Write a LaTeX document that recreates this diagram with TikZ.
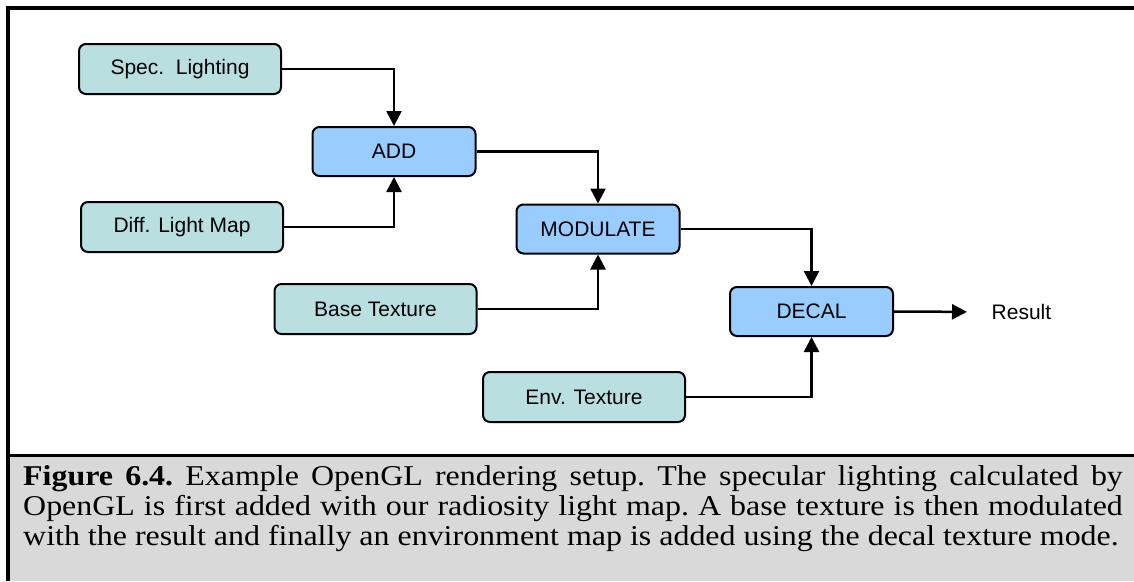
\documentclass[tikz,border=0pt]{standalone}
\usepackage{fontspec}
\usepackage{graphicx}
\setmainfont{Liberation Serif}
\newfontfamily\boxfont{Liberation Sans}
\usetikzlibrary{arrows.meta}
\definecolor{inbox}{HTML}{BADFE1}
\definecolor{opbox}{HTML}{99CCFF}
\definecolor{capgray}{HTML}{D9D9D9}
\tikzset{
  srcbox/.style={draw=black, line width=2pt, rounded corners=7pt, fill=inbox,
    minimum width=202pt, minimum height=50pt, inner sep=0pt,
    font=\boxfont\fontsize{21}{25}\selectfont},
  opnode/.style={draw=black, line width=2pt, rounded corners=7pt, fill=opbox,
    minimum width=163pt, minimum height=49pt, inner sep=0pt,
    font=\boxfont\fontsize{21}{25}\selectfont},
  plain/.style={inner sep=0pt, font=\boxfont\fontsize{21}{25}\selectfont},
  link/.style={line width=2.5pt, -{Triangle[length=15pt,width=15pt]}},
}
\begin{document}
\begin{tikzpicture}[x=1pt, y=-1pt]
  \useasboundingbox (0,0) rectangle (1134,581);
  % caption panel and frame
  \fill[capgray] (10,457) rectangle (1134,581);
  \draw[line width=4pt] (8,581) -- (8,8) -- (1134,8);
  \draw[line width=3pt] (8,455.5) -- (1134,455.5);

  % inputs and operations
  \node[srcbox] (spec) at (180,69)    {Spec.\ \ Lighting};
  \node[srcbox] (diff) at (182,227)   {Diff. Light Map};
  \node[srcbox] (base) at (375.5,309) {Base Texture};
  \node[srcbox] (env)  at (584,397)   {Env. Texture};
  \node[opnode] (add)  at (394,151.5) {ADD};
  \node[opnode] (mod)  at (598,229)   {MODULATE};
  \node[opnode] (dec)  at (811.5,311.5) {DECAL};
  \node[plain, anchor=west] (res) at (991.5,312) {Result};

  % data flow
  \draw[link] (spec.east) -| (add.north);
  \draw[link] (diff.east) -| (add.south);
  \draw[link] (add.east)  -| (mod.north);
  \draw[link] (base.east) -| (mod.south);
  \draw[link] (mod.east)  -| (dec.north);
  \draw[link] (env.east)  -| (dec.south);
  \draw[link, shorten >=24.5pt] (dec.east) -- (res.west);

  % caption, set a little wide
  \node[anchor=base west, inner sep=0pt] (cap) at (23,485) {%
    \scalebox{1.113}[1]{\parbox[t]{988pt}{\fontsize{28.7}{30}\selectfont\frenchspacing
    \textbf{Figure 6.4.} Example OpenGL rendering setup. The specular lighting calculated by\linebreak
    OpenGL is first added with our radiosity light map. A base texture is then modulated\linebreak
    with the result and finally an environment map is added using the decal texture mode.}}};
\end{tikzpicture}
\end{document}
